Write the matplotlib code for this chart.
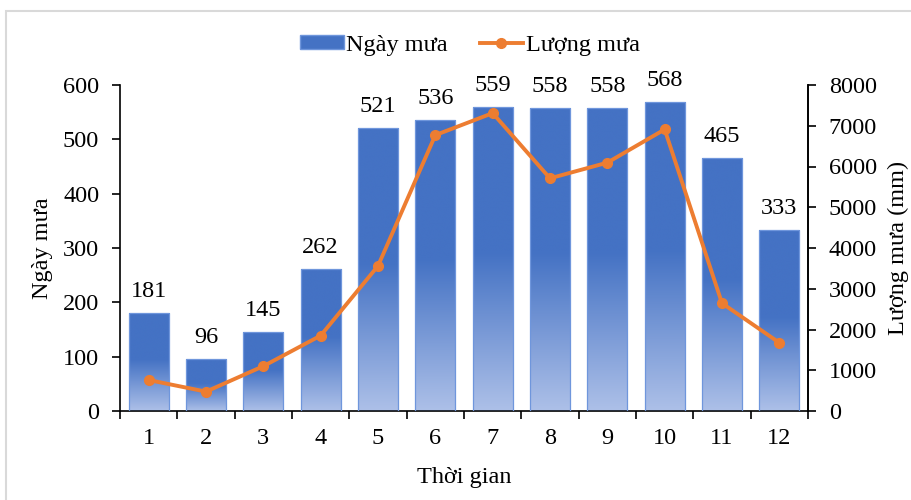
import numpy as np
import matplotlib
matplotlib.use("Agg")
import matplotlib.pyplot as plt
from matplotlib.colors import LinearSegmentedColormap
from matplotlib.patches import Patch, Rectangle
from matplotlib.lines import Line2D

# Data
months = ["1", "2", "3", "4", "5", "6", "7", "8", "9", "10", "11", "12"]
rain_days = [181, 96, 145, 262, 521, 536, 559, 558, 558, 568, 465, 333]
rainfall_mm = [760, 475, 1100, 1850, 3560, 6770, 7310, 5710, 6095, 6910, 2645, 1675]

left_ticks = [0, 100, 200, 300, 400, 500, 600]
right_ticks = [0, 1000, 2000, 3000, 4000, 5000, 6000, 7000, 8000]

plt.rcParams["font.family"] = ["Liberation Serif", "DejaVu Serif"]
FS = 17.5

BLUE = "#4472C4"
LIGHT = "#ADC0E8"
EDGE = "#6F96DC"
ORANGE = "#ED7D31"

fig = plt.figure(figsize=(9.11, 5.0), dpi=100)
ax = fig.add_axes([120 / 911, 1 - 411 / 500, (808 - 120) / 911, (411 - 85) / 500])

x = np.arange(1, len(months) + 1)
width = 0.70
bars = ax.bar(x, rain_days, width=width, facecolor="none", edgecolor=EDGE,
              linewidth=0.9, zorder=3)

# vertical gradient inside each bar: dark at top, light at bottom
cmap = LinearSegmentedColormap.from_list(
    "grad", [(0.0, BLUE), (0.48, BLUE), (1.0, LIGHT)])
grad = np.linspace(0, 1, 256).reshape(-1, 1)
for rect in bars:
    x0, h = rect.get_x(), rect.get_height()
    im = ax.imshow(grad, cmap=cmap, aspect="auto", origin="upper",
                   extent=[x0, x0 + rect.get_width(), 0, h], zorder=2,
                   interpolation="bicubic")
    im.set_clip_path(rect)

ax.bar_label(bars, labels=[str(v) for v in rain_days], padding=8,
             fontsize=FS, zorder=4)

ax.set_xlim(0.5, len(months) + 0.5)
ax.set_ylim(0, 600)
ax.set_yticks(left_ticks)
ax.set_xticks(x)
ax.set_xticklabels(months)
ax.set_xticks(np.arange(0.5, len(months) + 1, 1), minor=True)
ax.tick_params(axis="x", which="major", length=0, pad=12, labelsize=FS)
ax.tick_params(axis="x", which="minor", length=6, width=1.2, direction="out")
ax.tick_params(axis="y", length=6, width=1.2, direction="out", pad=9,
               labelsize=FS)
ax.spines["top"].set_visible(False)
for s in ("left", "bottom", "right"):
    ax.spines[s].set_linewidth(1.2)
ax.set_xlabel("Thời gian", fontsize=FS, labelpad=13)
ax.set_ylabel("Ngày mưa", fontsize=FS, labelpad=7)

ax2 = ax.twinx()
ax2.plot(x, rainfall_mm, color=ORANGE, linewidth=2.8, marker="o",
         markersize=7, zorder=5)
ax2.set_ylim(0, 8000)
ax2.set_yticks(right_ticks)
ax2.tick_params(axis="y", length=6, width=1.2, direction="out", pad=9,
                labelsize=FS)
ax2.spines["top"].set_visible(False)
ax2.spines["right"].set_linewidth(1.2)
ax2.spines["left"].set_visible(False)
ax2.spines["bottom"].set_visible(False)
ax2.set_ylabel("Lượng mưa (mm)", fontsize=FS, labelpad=8)

handles = [
    Patch(facecolor=BLUE, edgecolor=EDGE),
    Line2D([0], [0], color=ORANGE, linewidth=2.8, marker="o", markersize=7),
]
fig.legend(handles, ["Ngày mưa", "Lượng mưa"], loc="center",
           bbox_to_anchor=(470 / 911, 1 - 45 / 500), ncol=2, frameon=False,
           fontsize=FS, handlelength=1.8, handleheight=0.5,
           handletextpad=0.1, columnspacing=1.3)

# light frame around the figure
fig.patches.append(Rectangle((6 / 911, -0.2), 1.5, 1.2 - 11 / 500,
                             transform=fig.transFigure, fill=False,
                             edgecolor="#D9D9D9", linewidth=1.5,
                             clip_on=False))

fig.savefig("out.png", dpi=100)
